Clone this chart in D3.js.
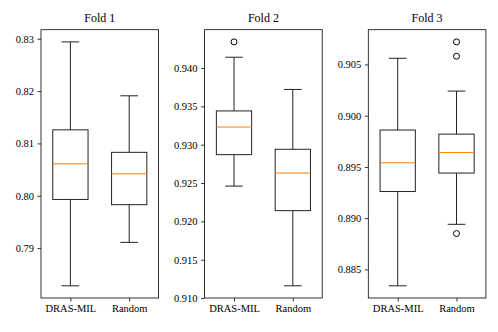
<!DOCTYPE html>
<head>
    <meta charset="utf-8">
    <script src="https://cdn.jsdelivr.net/npm/d3@7"></script>
    <style type="text/css">
        body { margin: 0; background: #fff; }
        svg { display: block; }
        svg text { font-family: "Liberation Serif", "DejaVu Serif", serif; }
        .title { font-size: 12px; }
    </style>
</head>
<body>
    <div id="chart"></div>
</body>
</html>

<script type="text/javascript">
    // categories and panels
    var methods = ["DRAS-MIL", "Random"];
    var folds = ["Fold 1", "Fold 2", "Fold 3"];

    // box stats per fold: [whiskerLow, q1, median, q3, whiskerHigh]
    var fold1Stats = [[0.7828, 0.7993, 0.8061, 0.8126, 0.8294],
                      [0.7911, 0.7983, 0.8042, 0.8083, 0.8191]];
    var fold2Stats = [[0.9246, 0.9287, 0.9323, 0.9344, 0.9414],
                      [0.9116, 0.9214, 0.9263, 0.9294, 0.9372]];
    var fold3Stats = [[0.8834, 0.8926, 0.8954, 0.8986, 0.9056],
                      [0.8894, 0.8944, 0.8964, 0.8982, 0.9024]];

    // outliers per fold, per method
    var fold1Outliers = [[], []];
    var fold2Outliers = [[0.9434], []];
    var fold3Outliers = [[], [0.9072, 0.9058, 0.8885]];

    // y tick labels
    var fold1Ticks = [0.79, 0.80, 0.81, 0.82, 0.83];
    var fold2Ticks = [0.910, 0.915, 0.920, 0.925, 0.930, 0.935, 0.940];
    var fold3Ticks = [0.885, 0.890, 0.895, 0.900, 0.905];

    var panels = [
        {title: folds[0], stats: fold1Stats, outliers: fold1Outliers, ticks: fold1Ticks, fmt: ".2f"},
        {title: folds[1], stats: fold2Stats, outliers: fold2Outliers, ticks: fold2Ticks, fmt: ".3f"},
        {title: folds[2], stats: fold3Stats, outliers: fold3Outliers, ticks: fold3Ticks, fmt: ".3f"}
    ];

    var width = 498, height = 332;
    var lefts = [41, 204.6, 368.3];
    var pw = 117.6, plotTop = 29.7, plotBottom = 298;
    var boxW = 0.6, capW = 0.3;

    var svg = d3.select("#chart").append("svg")
        .attr("width", width)
        .attr("height", height);

    panels.forEach(function(p, pi) {
        var g = svg.append("g").attr("transform", "translate(" + lefts[pi] + ",0)");

        // y domain with 5% margin like matplotlib
        var all = [];
        p.stats.forEach(function(s) { all = all.concat(s); });
        p.outliers.forEach(function(o) { all = all.concat(o); });
        var lo = d3.min(all), hi = d3.max(all), pad = (hi - lo) * 0.05;

        var y = d3.scaleLinear().domain([lo - pad, hi + pad]).range([plotBottom, plotTop]);
        var x = d3.scaleLinear().domain([0.5, 2.5]).range([0, pw]);

        var yAxis = g.append("g")
            .call(d3.axisLeft(y).tickValues(p.ticks).tickFormat(d3.format(p.fmt))
                .tickSize(3.5).tickPadding(3.5).tickSizeOuter(0));
        yAxis.select(".domain").remove();

        var xAxis = g.append("g")
            .attr("transform", "translate(0," + plotBottom + ")")
            .call(d3.axisBottom(x).tickValues([1, 2]).tickFormat(function(d) { return methods[d - 1]; })
                .tickSize(3.5).tickPadding(3.5).tickSizeOuter(0));
        xAxis.select(".domain").remove();

        [yAxis, xAxis].forEach(function(a) {
            a.attr("font-family", "Liberation Serif").attr("font-size", 10.5);
            a.selectAll(".tick line").attr("stroke", "#000").attr("stroke-width", 0.8);
            a.selectAll(".tick text").attr("fill", "#000");
        });

        // frame
        g.append("rect")
            .attr("x", 0).attr("y", plotTop)
            .attr("width", pw).attr("height", plotBottom - plotTop)
            .attr("fill", "none").attr("stroke", "#000").attr("stroke-width", 0.8);

        g.append("text")
            .attr("class", "title")
            .attr("x", pw / 2).attr("y", 22)
            .attr("text-anchor", "middle")
            .text(p.title);

        p.stats.forEach(function(s, i) {
            var cx = x(i + 1);
            var bg = g.append("g").attr("stroke", "#222").attr("stroke-width", 1).attr("fill", "none");
            // whiskers
            bg.append("line").attr("x1", cx).attr("x2", cx).attr("y1", y(s[0])).attr("y2", y(s[1]));
            bg.append("line").attr("x1", cx).attr("x2", cx).attr("y1", y(s[3])).attr("y2", y(s[4]));
            // caps
            [s[0], s[4]].forEach(function(v) {
                bg.append("line")
                    .attr("x1", x(i + 1 - capW / 2)).attr("x2", x(i + 1 + capW / 2))
                    .attr("y1", y(v)).attr("y2", y(v));
            });
            // box
            bg.append("rect")
                .attr("x", x(i + 1 - boxW / 2)).attr("y", y(s[3]))
                .attr("width", x(i + 1 + boxW / 2) - x(i + 1 - boxW / 2))
                .attr("height", y(s[1]) - y(s[3]));
            // median
            g.append("line")
                .attr("x1", x(i + 1 - boxW / 2)).attr("x2", x(i + 1 + boxW / 2))
                .attr("y1", y(s[2])).attr("y2", y(s[2]))
                .attr("stroke", "#ff7f0e").attr("stroke-width", 1);
            // outliers
            g.selectAll(null)
                .data(p.outliers[i])
                .enter().append("circle")
                .attr("cx", cx).attr("cy", function(d) { return y(d); })
                .attr("r", 3)
                .attr("fill", "none").attr("stroke", "#000").attr("stroke-width", 1);
        });
    });
</script>
